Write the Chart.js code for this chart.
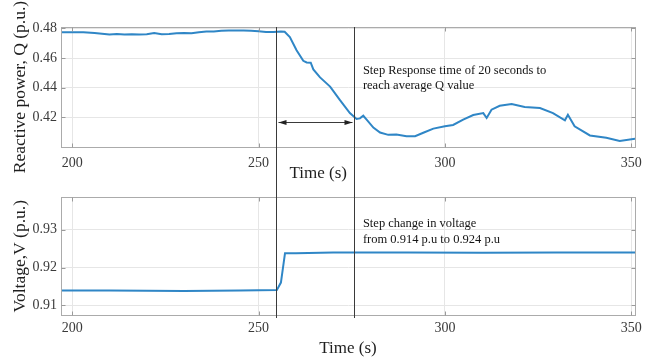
<!DOCTYPE html>
<html>
<head>
<meta charset="utf-8">
<script src="https://cdn.jsdelivr.net/npm/chart.js@4"></script>
<style>
  html, body { margin: 0; padding: 0; background: #fff; }
  #wrap { position: relative; width: 656px; height: 358px; overflow: hidden; }
  #qChart { position: absolute; left: 0; top: 0; }
  #vChart { position: absolute; left: 0; top: 185px; }
</style>
</head>
<body>
<div id="wrap">
  <canvas id="qChart" width="656" height="185"></canvas>
  <canvas id="vChart" width="656" height="173"></canvas>
</div>
<script>
// reactive power Q (p.u.) vs time (s)
const tQ = [197, 200, 203, 206, 208, 210, 212, 214, 216, 218, 220, 222, 224, 226, 228, 230, 232, 234, 236, 238,
  240, 242, 244, 246, 248, 250, 252, 254, 256, 257, 258.4, 260.2, 262, 262.9, 264, 264.7, 266.5, 269.2, 271.8,
  274.5, 276.3, 277.2, 278.1, 279, 280.8, 282.6, 284.8, 287, 289.7, 292, 294.2, 296.9, 300, 302.2, 304.9, 307.6,
  310.3, 311.2, 312.5, 314.7, 317.9, 321.4, 325.5, 329, 332.2, 333, 334.8, 338.9, 343.3, 346.9, 351];
const qVals = [0.4775, 0.4775, 0.4774, 0.4770, 0.4765, 0.4760, 0.4762, 0.4760, 0.4761, 0.4760, 0.4761, 0.4769,
  0.4761, 0.4763, 0.4768, 0.4770, 0.4768, 0.4775, 0.4779, 0.4780, 0.4785, 0.4787, 0.4786, 0.4787, 0.4784, 0.4782,
  0.4777, 0.4777, 0.4780, 0.4778, 0.4742, 0.4653, 0.4582, 0.4571, 0.4569, 0.4524, 0.4470, 0.4408, 0.4318, 0.4229,
  0.4189, 0.4193, 0.4211, 0.4185, 0.4131, 0.4098, 0.4082, 0.4084, 0.4073, 0.4073, 0.4096, 0.4124, 0.4140, 0.4149,
  0.4185, 0.4216, 0.4229, 0.4196, 0.4252, 0.4278, 0.4290, 0.4270, 0.4263, 0.4229, 0.4180, 0.4218, 0.4140, 0.4078,
  0.4062, 0.4040, 0.4055];

// voltage V (p.u.) vs time (s)
const tV = [197, 210, 230, 245, 254.9, 256, 257.1, 260, 270, 290, 310, 330, 351];
const vVals = [0.9139, 0.9139, 0.9138, 0.9139, 0.9140, 0.9160, 0.9238, 0.9238, 0.9240, 0.9240, 0.9239, 0.9240, 0.9240];

const xTicks = [200, 250, 300, 350];
const qTicks = [0.42, 0.44, 0.46, 0.48];
const vTicks = [0.91, 0.92, 0.93];

// step start / end markers and annotation anchors
const markerTimes = [254.7, 275.6];
const arrowQ = 0.4171;
const qNote = ["Step Response time of 20 seconds to", "reach average Q value"];
const vNote = ["Step change in voltage", "from 0.914 p.u to 0.924 p.u"];

const FONT = "'Liberation Serif', 'Times New Roman', serif";
const BLUE = '#2f86c6';

function pts(xs, ys) { return xs.map((x, i) => ({x: x, y: ys[i]})); }

// matlab-like box with small inward ticks
function drawBox(chart) {
  const {ctx, chartArea: a, scales: {x, y}} = chart;
  ctx.save();
  ctx.strokeStyle = '#ababab';
  ctx.lineWidth = 1;
  const l = Math.round(a.left) + 0.5, t = Math.round(a.top) + 0.5;
  const r = Math.round(a.right) + 0.5, b = Math.round(a.bottom) + 0.5;
  ctx.strokeRect(l, t, r - l, b - t);
  ctx.strokeStyle = '#9a9a9a';
  ctx.beginPath();
  x.ticks.forEach(tk => {
    const px = Math.round(x.getPixelForValue(tk.value)) + 0.5;
    ctx.moveTo(px, b); ctx.lineTo(px, b - 4);
    ctx.moveTo(px, t); ctx.lineTo(px, t + 4);
  });
  y.ticks.forEach(tk => {
    const py = Math.round(y.getPixelForValue(tk.value)) + 0.5;
    ctx.moveTo(l, py); ctx.lineTo(l + 4, py);
    ctx.moveTo(r, py); ctx.lineTo(r - 4, py);
  });
  ctx.stroke();
  ctx.restore();
}

function vline(ctx, px, y0, y1) {
  ctx.beginPath();
  ctx.moveTo(px, y0);
  ctx.lineTo(px, y1);
  ctx.stroke();
}

const qDecor = {
  id: 'qDecor',
  afterDatasetsDraw(chart) {
    const {ctx, chartArea: a, scales: {x, y}} = chart;
    drawBox(chart);
    ctx.save();
    ctx.strokeStyle = '#3a3a3a';
    ctx.lineWidth = 1;
    const xs = markerTimes.map(t => Math.round(x.getPixelForValue(t)) + 0.5);
    xs.forEach(px => vline(ctx, px, a.top, chart.height));
    // double arrow between the markers
    const ay = Math.round(y.getPixelForValue(arrowQ)) + 0.5;
    const x0 = xs[0] + 2, x1 = xs[1] - 2;
    ctx.beginPath();
    ctx.moveTo(x0, ay);
    ctx.lineTo(x1, ay);
    ctx.stroke();
    ctx.fillStyle = '#222';
    ctx.beginPath();
    ctx.moveTo(x0, ay); ctx.lineTo(x0 + 8, ay - 2.5); ctx.lineTo(x0 + 8, ay + 2.5); ctx.closePath();
    ctx.moveTo(x1, ay); ctx.lineTo(x1 - 8, ay - 2.5); ctx.lineTo(x1 - 8, ay + 2.5); ctx.closePath();
    ctx.fill();
    // annotation
    ctx.fillStyle = '#141414';
    ctx.font = '12.5px ' + FONT;
    ctx.textBaseline = 'middle';
    ctx.textAlign = 'left';
    ctx.fillText(qNote[0], x.getPixelForValue(278), y.getPixelForValue(0.4512));
    ctx.fillText(qNote[1], x.getPixelForValue(278), y.getPixelForValue(0.4412));
    // axis title of the upper plot
    ctx.fillStyle = '#1e1e1e';
    ctx.font = '17px ' + FONT;
    ctx.textAlign = 'center';
    ctx.fillText('Time (s)', x.getPixelForValue(266), a.bottom + 27);
    ctx.restore();
  }
};

const vDecor = {
  id: 'vDecor',
  afterDatasetsDraw(chart) {
    const {ctx, chartArea: a, scales: {x, y}} = chart;
    drawBox(chart);
    ctx.save();
    ctx.strokeStyle = '#3a3a3a';
    ctx.lineWidth = 1;
    markerTimes.forEach(t => vline(ctx, Math.round(x.getPixelForValue(t)) + 0.5, 0, a.bottom + 3));
    ctx.fillStyle = '#141414';
    ctx.font = '12.5px ' + FONT;
    ctx.textBaseline = 'middle';
    ctx.textAlign = 'left';
    ctx.fillText(vNote[0], x.getPixelForValue(278), y.getPixelForValue(0.9315));
    ctx.fillText(vNote[1], x.getPixelForValue(278), y.getPixelForValue(0.9273));
    ctx.restore();
  }
};

function makeOptions(yMin, yMax, yTickVals, yTitle, padTop, axisH, tickPad, showXTitle) {
  return {
    responsive: false,
    animation: false,
    devicePixelRatio: 1,
    layout: {padding: {top: padTop, right: 21, left: 0, bottom: 0}},
    plugins: {legend: {display: false}, tooltip: {enabled: false}},
    scales: {
      x: {
        type: 'linear',
        min: 197, max: 351,
        afterFit: s => { s.height = axisH; },
        afterBuildTicks: s => { s.ticks = xTicks.map(v => ({value: v})); },
        grid: {color: '#e6e6e6', drawTicks: false},
        border: {color: '#ababab'},
        ticks: {font: {family: FONT, size: 14}, color: '#3a3a3a', padding: tickPad, maxRotation: 0},
        title: {display: showXTitle, text: 'Time (s)', color: '#1e1e1e',
          font: {family: FONT, size: 17, lineHeight: 1.1}, padding: {top: 0, bottom: 0}}
      },
      y: {
        min: yMin, max: yMax,
        afterFit: s => { s.width = 61; },
        afterBuildTicks: s => { s.ticks = yTickVals.map(v => ({value: v})); },
        grid: {color: '#e6e6e6', drawTicks: false},
        border: {color: '#ababab'},
        ticks: {font: {family: FONT, size: 14}, color: '#3a3a3a', padding: 4,
          callback: v => String(Math.round(v * 100) / 100)},
        title: {display: true, text: yTitle, color: '#1e1e1e',
          font: {family: FONT, size: 17.5, lineHeight: 1.1}, padding: {top: 11, bottom: 0}}
      }
    }
  };
}

new Chart(document.getElementById('qChart'), {
  type: 'line',
  data: {datasets: [{data: pts(tQ, qVals), borderColor: BLUE, borderWidth: 2, pointRadius: 0, tension: 0}]},
  options: makeOptions(0.40, 0.481, qTicks, 'Reactive power, Q (p.u.)', 27, 38, 8, false),
  plugins: [qDecor]
});

new Chart(document.getElementById('vChart'), {
  type: 'line',
  data: {datasets: [{data: pts(tV, vVals), borderColor: BLUE, borderWidth: 2, pointRadius: 0, tension: 0}]},
  options: makeOptions(0.9074, 0.9386, vTicks, 'Voltage,V (p.u.)', 9, 43, 5, true),
  plugins: [vDecor]
});
</script>
</body>
</html>
